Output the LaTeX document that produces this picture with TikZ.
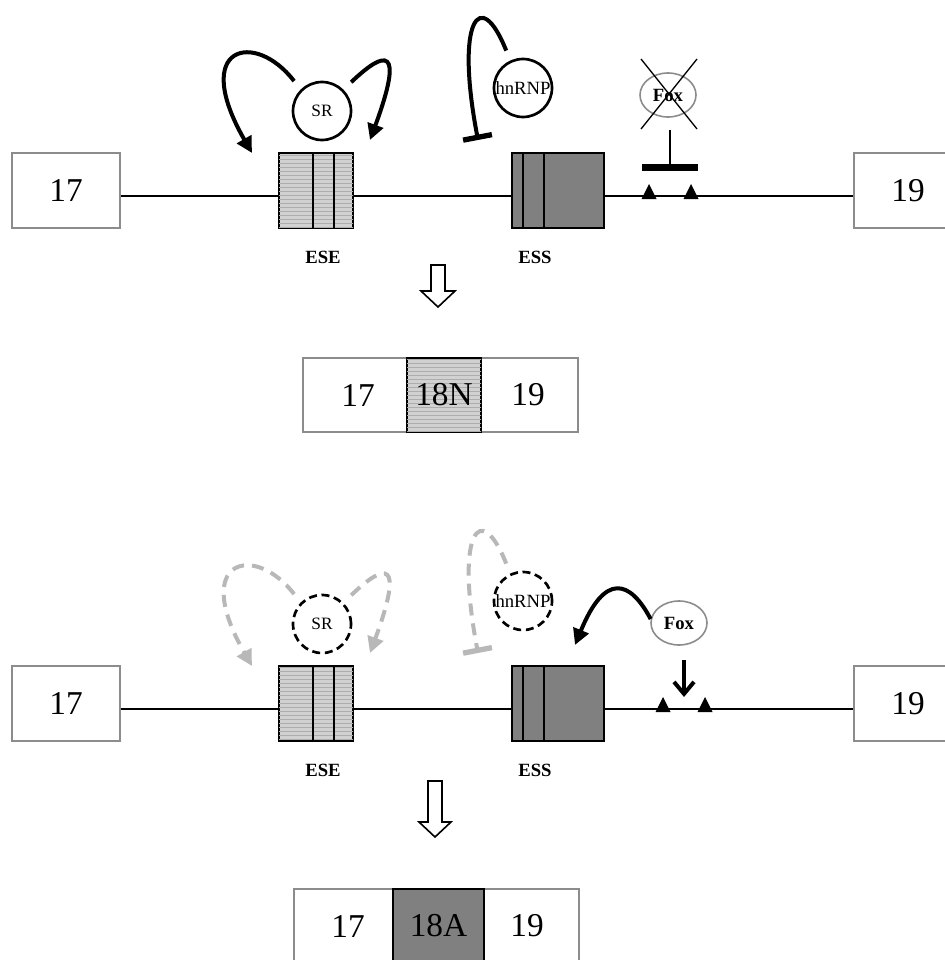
\documentclass[tikz,border=0pt]{standalone}
\usepackage{fontspec}
\setmainfont{Liberation Serif}
\usetikzlibrary{arrows.meta}
\usetikzlibrary{patterns}
\usetikzlibrary{calc}
\usetikzlibrary{shapes.geometric}

\newcommand{\pxu}{0.75pt}
\tikzset{
    bignum/.style={font=\fontsize{25}{30}\selectfont},
    exonbox/.style={draw=black!45, line width=1.2pt, fill=white, inner sep=0pt,
        minimum width=108*\pxu, minimum height=75*\pxu, bignum},
    esebox/.style={draw, line width=1.3pt, fill=black!18, inner sep=0pt,
        postaction={pattern=horizontal lines, pattern color=black!32},
        minimum width=74*\pxu, minimum height=75*\pxu},
    essbox/.style={draw, line width=1.3pt, fill=black!50, inner sep=0pt,
        minimum width=92*\pxu, minimum height=75*\pxu},
    sitelabel/.style={font=\bfseries\fontsize{14}{14}\selectfont},
    protein/.style={circle, draw, line width=2pt, inner sep=0pt, minimum size=58*\pxu,
        font=\fontsize{13}{13}\selectfont},
    ghostprotein/.style={protein, dash pattern=on 6pt off 3.5pt},
    foxshape/.style={ellipse, draw=black!45, line width=1.2pt, inner sep=0pt,
        minimum width=56*\pxu, minimum height=44*\pxu, font=\bfseries\fontsize{14}{14}\selectfont},
    regulate/.style={line width=3pt},
    ghostregulate/.style={line width=3pt, color=black!28, dash pattern=on 9pt off 6pt},
    hollowarrow/.style={draw, line width=1.2pt, fill=white, line join=miter},
}

\begin{document}
\begin{tikzpicture}[x=\pxu, y=-\pxu]
    \useasboundingbox (0,0) rectangle (945,960);
    \clip (0,0) rectangle (945,960);
    \foreach \dy/\r/\tx/\ring/\reg in {0/t/649/protein/regulate, 513/b/663/ghostprotein/ghostregulate} {
        \coordinate (ln\r) at (0,196+\dy);
        \node[exonbox] (ex17\r) at (66,190.5+\dy) {17};
        \node[exonbox] (ex19\r) at (908,190.5+\dy) {19};
        \draw[line width=1.2pt] (ex17\r.east |- ln\r) -- (ex19\r.west |- ln\r);
        \node[esebox] (ese\r) at (316,190.5+\dy) {};
        \draw[line width=1.3pt] (313,153+\dy) -- (313,228+\dy) (334,153+\dy) -- (334,228+\dy);
        \node[essbox] (ess\r) at (558,190.5+\dy) {};
        \draw[line width=1.3pt] (523,153+\dy) -- (523,228+\dy) (544,153+\dy) -- (544,228+\dy);
        \node[sitelabel] (eselab\r) at (323,257+\dy) {ESE};
        \node[sitelabel] (esslab\r) at (535,257+\dy) {ESS};
        \foreach \x in {\tx,\tx+42} {
            \fill (\x-7.5,199+\dy) -- (\x+7.5,199+\dy) -- (\x,184+\dy) -- cycle;
        }
        \node[\ring] (sr\r) at (322,111+\dy) {SR};
        \node[\ring, font=\fontsize{14}{14}\selectfont] (hn\r) at (523,88+\dy) {hnRNP};
        \coordinate (eseL\r) at (252,153+\dy);
        \coordinate (eseR\r) at (370,140+\dy);
        \coordinate (hnbar\r) at (478,140+\dy);
        \draw[\reg, -{Triangle[length=12pt,width=12pt]}, shorten <=8pt]
            (sr\r.135) .. controls (255,30+\dy) and (190,45+\dy) .. (eseL\r);
        \draw[\reg, -{Triangle[length=12pt,width=12pt]}, shorten <=8pt]
            (sr\r.45) .. controls (385,50+\dy) and (405,45+\dy) .. (eseR\r);
        \draw[\reg, -{Bar[width=22pt,line width=4pt]}, shorten <=8pt]
            (hn\r.115) .. controls (480,-15+\dy) and (455,20+\dy) .. (hnbar\r);
    }
    \node[foxshape] (foxt) at (668,95) {Fox};
    \draw[line width=1pt] ($(foxt.center)+(-27,-36)$) -- ($(foxt.center)+(29,34)$)
                          ($(foxt.center)+(29,-36)$) -- ($(foxt.center)+(-27,34)$);
    \coordinate (foxbar) at (670,171);
    \draw[line width=1.2pt, -{Bar[width=42pt,line width=5pt]}, shorten <=9pt]
        (foxt.south -| foxbar) -- (foxbar);
    \node[foxshape] (foxb) at (679,623) {Fox};
    \coordinate (essin) at (575,645);
    \coordinate (foxsite) at (684,697);
    \draw[regulate, -{Triangle[length=12pt,width=12pt]}]
        (foxb.172) .. controls (630,580) and (605,572) .. (essin);
    \draw[regulate, -{Straight Barb[length=9pt,width=15pt]}, shorten <=11pt]
        (foxb.south -| foxsite) -- (foxsite);
    \draw[hollowarrow] (431,265) -- (445,265) -- (445,291) -- (455,291) -- (438,307)
        -- (421,291) -- (431,291) -- cycle;
    \draw[hollowarrow] (428,781) -- (442,781) -- (442,822) -- (451,822) -- (435,837)
        -- (419,822) -- (428,822) -- cycle;
    \node[exonbox, minimum width=275*\pxu, minimum height=74*\pxu] (prodN) at (440.5,395) {};
    \node[esebox, minimum height=74*\pxu, bignum] (ex18N) at (444,395) {18N};
    \node[bignum] (p17N) at (358,395) {17};
    \node[bignum] (p19N) at (528,395) {19};
    \node[exonbox, minimum width=285*\pxu, minimum height=74*\pxu] (prodA) at (436.5,926) {};
    \node[essbox, minimum width=91*\pxu, minimum height=74*\pxu, bignum] (ex18A) at (438.5,926) {18A};
    \node[bignum] (p17A) at (348,926) {17};
    \node[bignum] (p19A) at (527,926) {19};
\end{tikzpicture}
\end{document}
